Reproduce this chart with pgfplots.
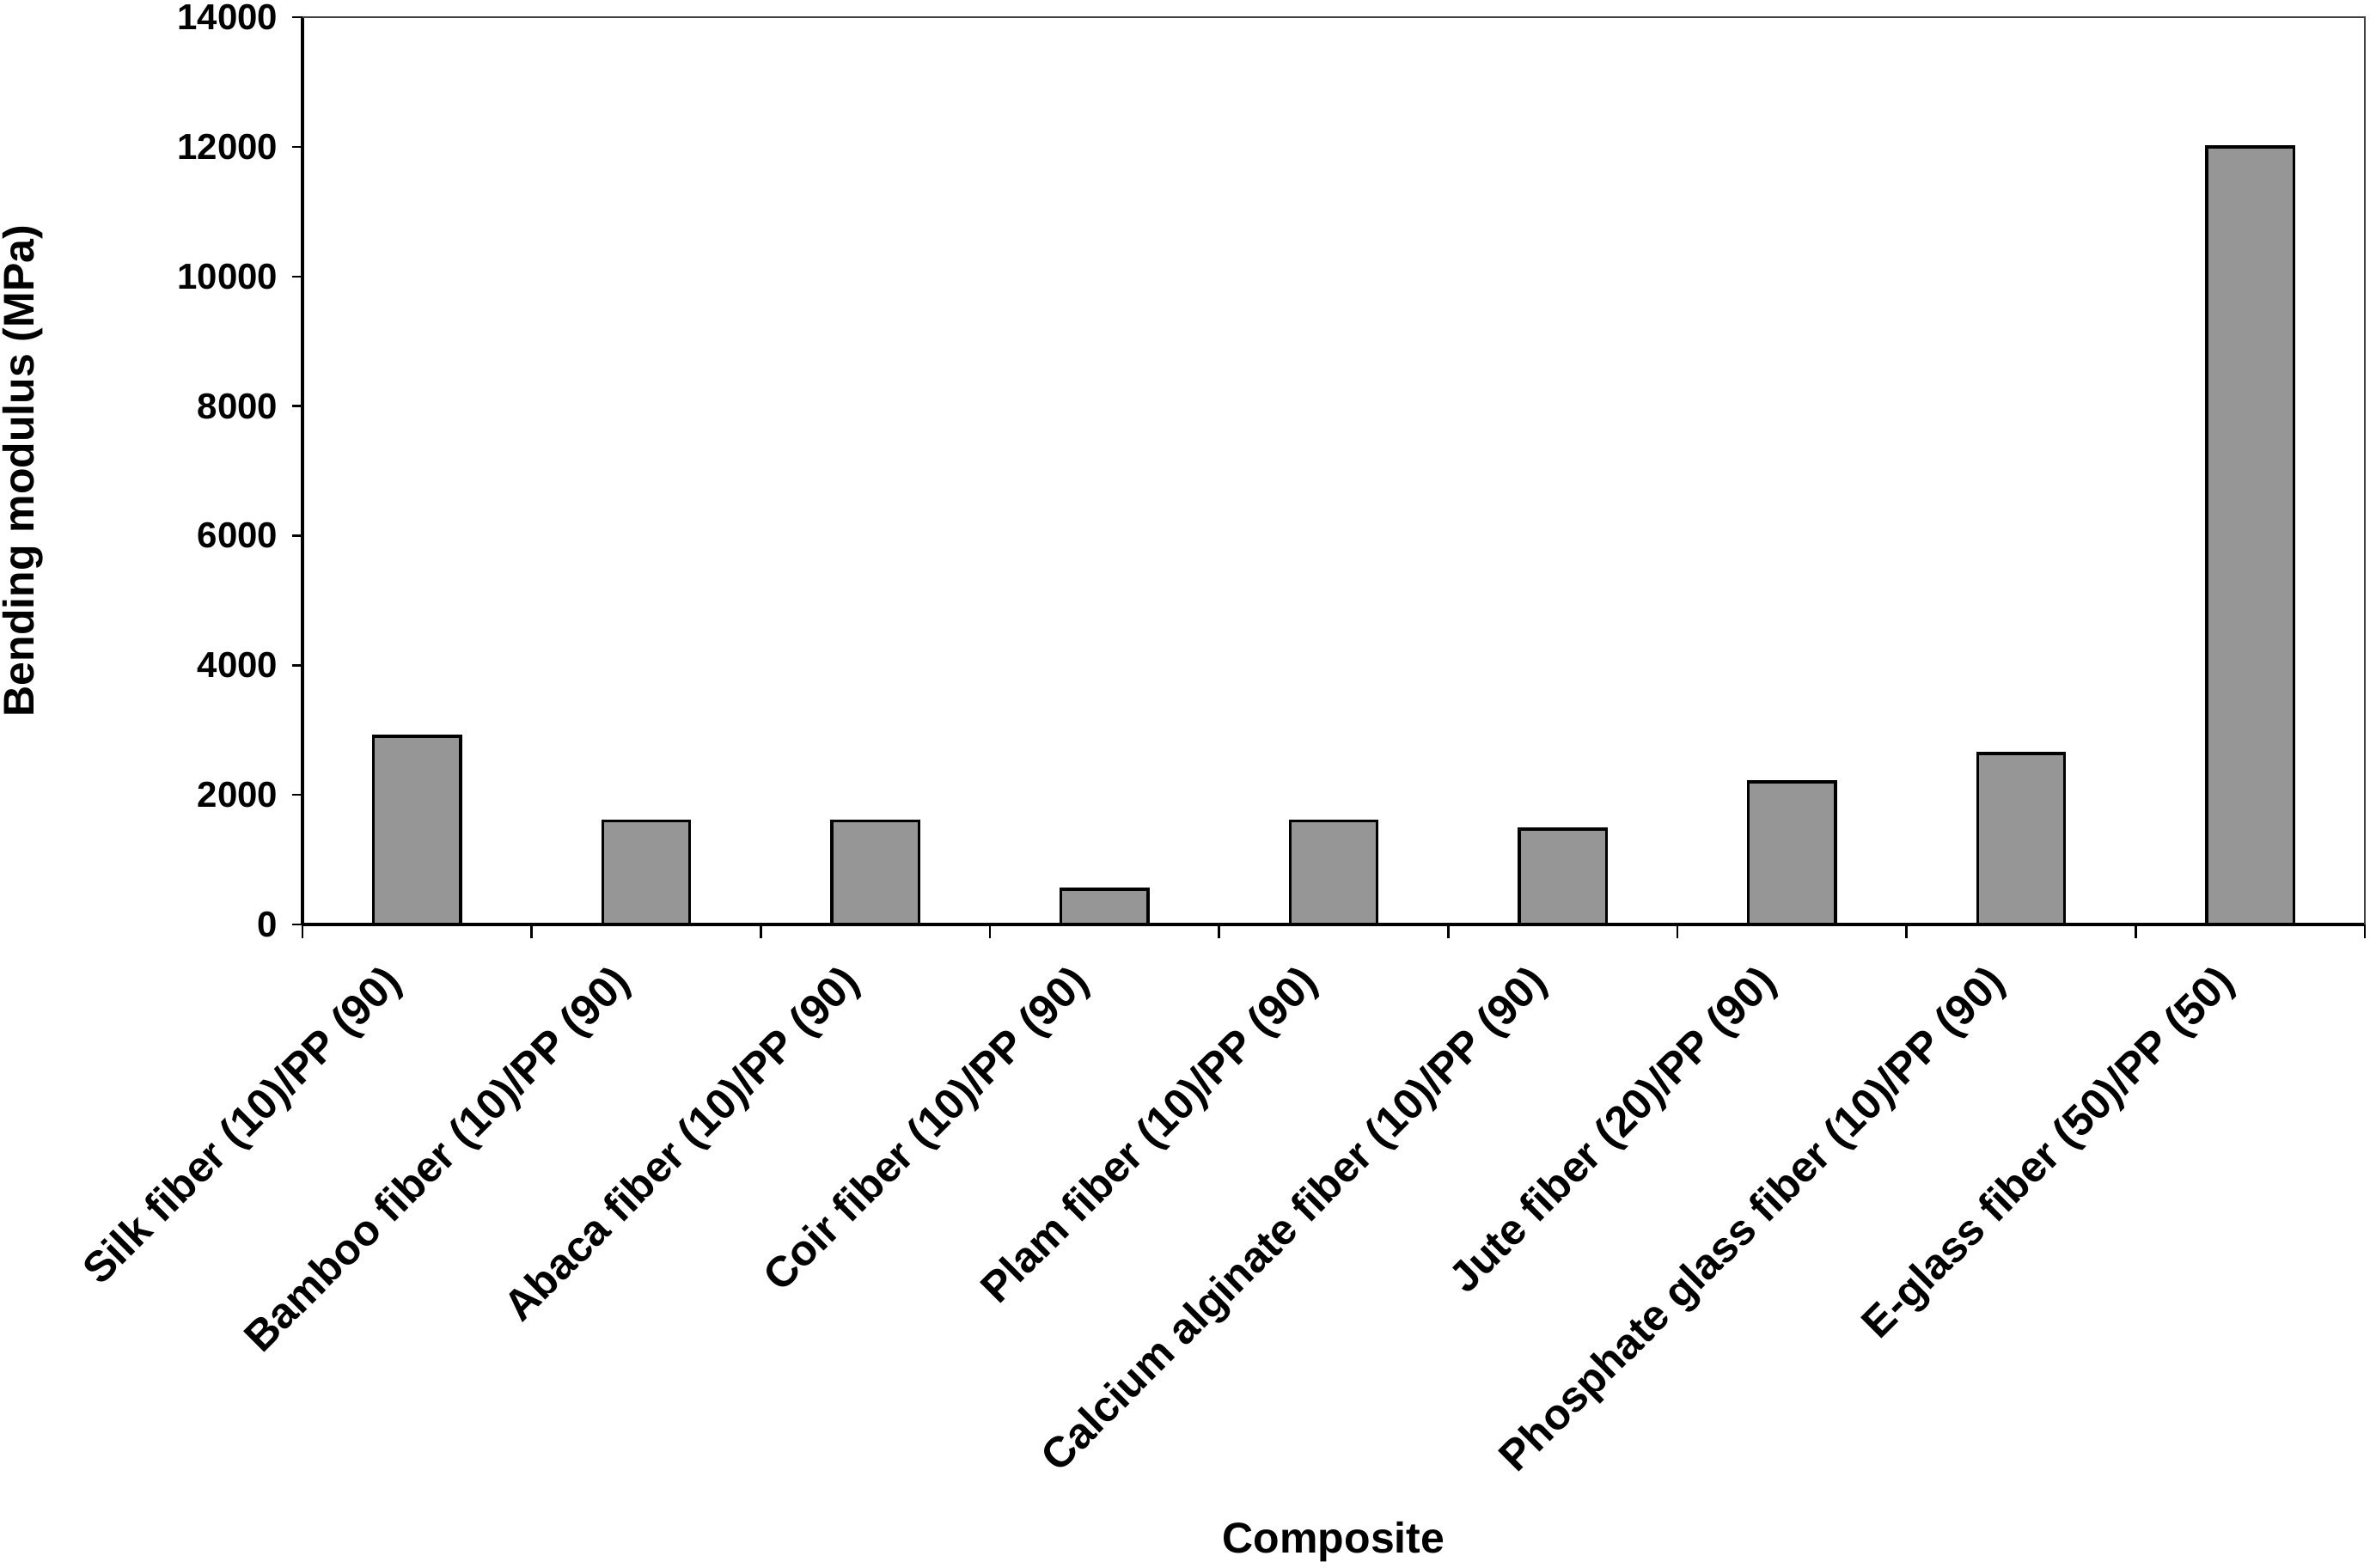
\documentclass[border=0pt]{standalone}
\usepackage{fontspec}
\setmainfont{Liberation Sans}
\usepackage{pgfplots}
\pgfplotsset{compat=1.18}

\definecolor{bargray}{RGB}{150,150,150}

\begin{document}
\begin{tikzpicture}
  % fixed page size: 690pt x 456pt, axis box at (0,0)
  \useasboundingbox (-88pt,-187pt) rectangle (601.5pt,269pt);
  \begin{axis}[
      scale only axis,
      width=600pt, height=264pt,
      xmin=-0.5, xmax=8.5,
      ymin=0, ymax=14000,
      axis lines=left,
      axis line style={line width=0.9pt, -},
      ytick={0,2000,...,14000},
      xtick={0,...,8},
      xticklabels={Silk fiber (10)/PP (90),Bamboo fiber (10)/PP (90),Abaca fiber (10)/PP (90),Coir fiber (10)/PP (90),Plam fiber (10)/PP (90),Calcium alginate fiber (10)/PP (90),Jute fiber (20)/PP (90),Phosphate glass fiber (10)/PP (90),E-glass fiber (50)/PP (50)},
      minor xtick={-0.5,0.5,...,8.5},
      major x tick style={draw=none},
      tick align=outside,
      major tick length=3pt,
      minor tick length=4pt,
      tick style={black, line width=0.6pt},
      scaled y ticks=false,
      /pgf/number format/1000 sep={},
      /pgf/number format/assume math mode=true,
      yticklabel style={font=\fontsize{10.5}{12}\selectfont\bfseries, inner sep=1pt, xshift=-3pt},
      xticklabel style={font=\fontsize{12.5}{14}\selectfont\bfseries, xshift=-10.5pt, yshift=-7.8pt, rotate=45, anchor=north east, inner sep=0pt},
      ylabel={\bfseries Bending modulus (MPa)},
      ylabel style={font=\fontsize{12.5}{14}\selectfont, at={(axis description cs:-0.12,0.5)}, anchor=south},
      xlabel={\bfseries Composite},
      xlabel style={font=\fontsize{12.5}{14}\selectfont, at={(axis description cs:0.5,-0.68)}, anchor=center},
      clip=false,
    ]
    \addplot[ybar, bar width=0.38, fill=bargray, draw=black, line width=0.9pt]
      coordinates {(0,2900) (1,1600) (2,1600) (3,540) (4,1600) (5,1470) (6,2200) (7,2640) (8,12000)};
    \draw[black!75, line width=0.7pt] (rel axis cs:0,1) -- (rel axis cs:1,1) -- (rel axis cs:1,0);
  \end{axis}
\end{tikzpicture}
\end{document}
